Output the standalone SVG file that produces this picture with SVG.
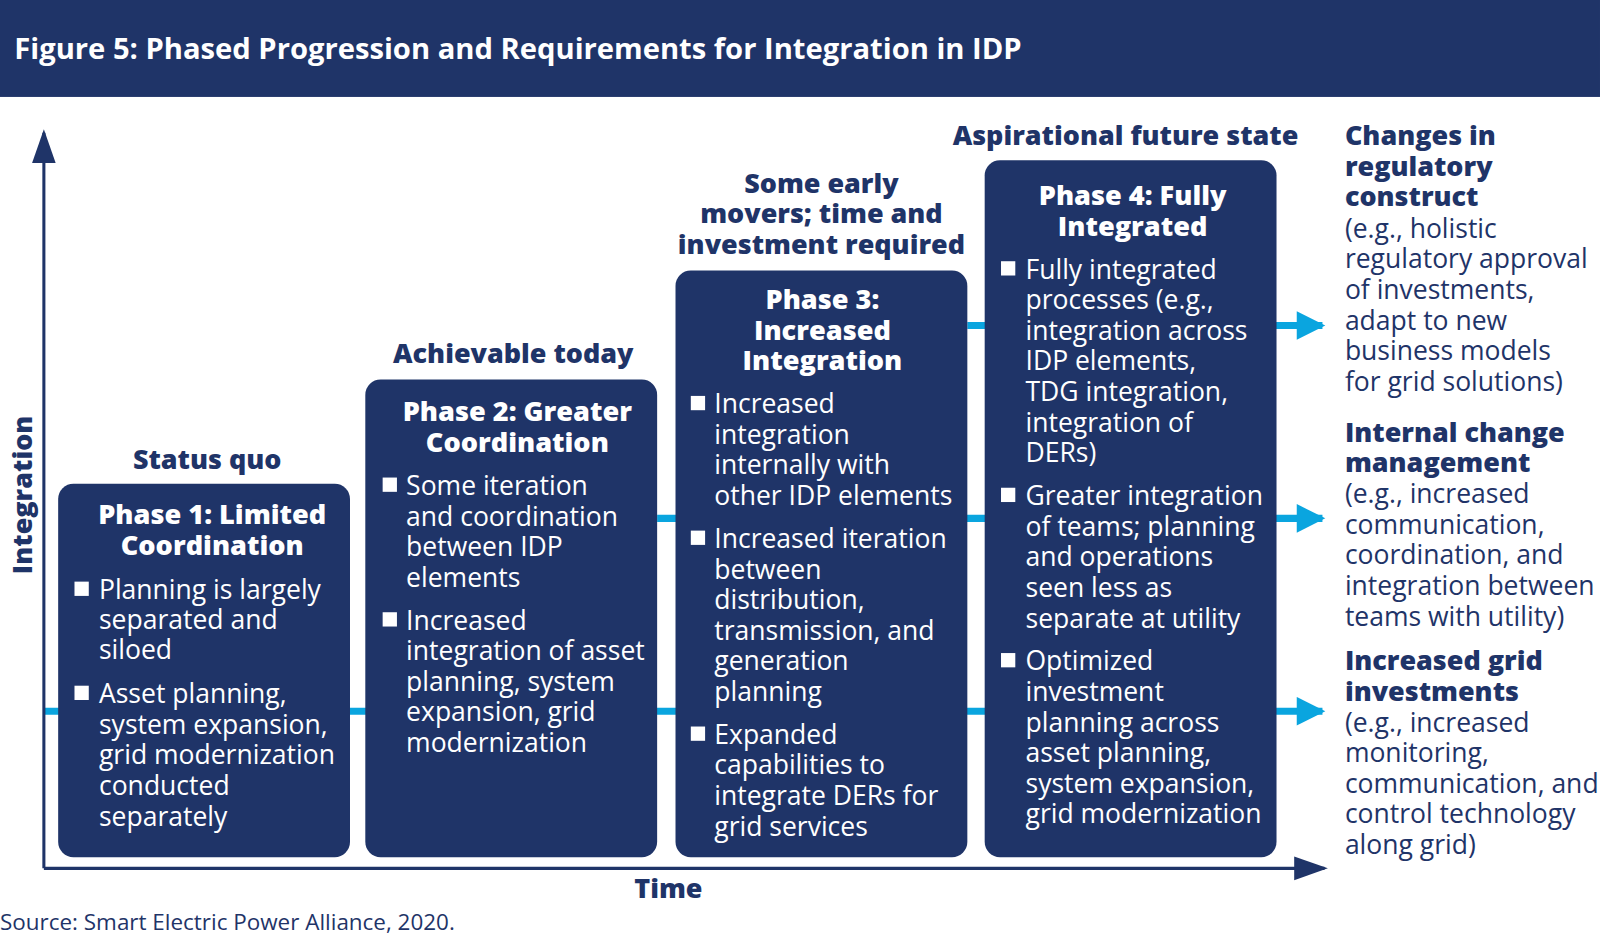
<svg xmlns="http://www.w3.org/2000/svg" width="1600" height="934" viewBox="0 0 1600 934">
<style>
.b{font-family:"Open Sans","Liberation Sans",sans-serif;font-weight:800;fill:#1f3468;font-size:26.4px}
.r{font-family:"Open Sans","Liberation Sans",sans-serif;fill:#1f3468;font-size:26px}
.w{font-family:"Open Sans","Liberation Sans",sans-serif;fill:#fff;font-size:26px}
.wb{font-family:"Open Sans","Liberation Sans",sans-serif;font-weight:800;fill:#fff;font-size:26.6px;text-anchor:middle}
.box{fill:#1f3468}
.sq{fill:#fff}
.c{stroke:#0aa5df;stroke-width:7;fill:none}
.ax{stroke:#1f3468;stroke-width:3;fill:none}
</style>
<defs>
<marker id="ca" viewBox="0 0 10 10" refX="9" refY="5" markerWidth="6" markerHeight="4" markerUnits="strokeWidth" orient="auto"><path d="M0,0L10,5L0,10Z" fill="#0aa5df"/></marker>
<marker id="aa" viewBox="0 0 10 10" refX="9" refY="5" markerWidth="11" markerHeight="11" markerUnits="strokeWidth" orient="auto"><path d="M0,1.5L10,5L0,8.5Z" fill="#1f3468"/></marker>
</defs>
<rect width="1600" height="934" fill="#fff"/>
<g transform="scale(1.0204)">
<rect x="0" y="0" width="1568" height="95" fill="#1f3468"/>
<text x="14" y="58" font-family="Open Sans,Liberation Sans,sans-serif" font-weight="700" font-size="28.6" fill="#fff">Figure 5: Phased Progression and Requirements for Integration in IDP</text>
<g id="connectors">
<path class="c" d="M43,697H1296" marker-end="url(#ca)"/>
<path class="c" d="M644,508H1296" marker-end="url(#ca)"/>
<path class="c" d="M948,319H1296" marker-end="url(#ca)"/>
<path class="ax" d="M43,851V130" marker-end="url(#aa)"/>
<path class="ax" d="M43,851H1298" marker-end="url(#aa)"/>
</g>
<text class="b" transform="translate(22,485) rotate(-90)" text-anchor="middle" y="9">Integration</text>
<text class="b" x="655" y="880" text-anchor="middle">Time</text>
<text x="0" y="911" font-family="Open Sans,Liberation Sans,sans-serif" font-size="22" fill="#1f3468">Source: Smart Electric Power Alliance, 2020.</text>
<g id="phase1">
<text class="b" x="203" y="460" text-anchor="middle">Status quo</text>
<rect class="box" x="57" y="474" width="286" height="366" rx="15"/>
<text class="wb" x="208" y="514">Phase 1: Limited</text><text class="wb" x="208" y="544">Coordination</text>
<rect class="sq" x="73" y="570" width="14" height="14"/>
<text class="w" x="97"><tspan x="97" y="587">Planning is largely</tspan><tspan x="97" y="616">separated and</tspan><tspan x="97" y="646">siloed</tspan></text>
<rect class="sq" x="73" y="672" width="14" height="14"/>
<text class="w"><tspan x="97" y="689">Asset planning,</tspan><tspan x="97" y="719">system expansion,</tspan><tspan x="97" y="749">grid modernization</tspan><tspan x="97" y="779">conducted</tspan><tspan x="97" y="809">separately</tspan></text>
</g>
<g id="phase2">
<text class="b" x="503" y="356" text-anchor="middle">Achievable today</text>
<rect class="box" x="358" y="372" width="286" height="468" rx="15"/>
<text class="wb" x="507" y="413">Phase 2: Greater</text><text class="wb" x="507" y="443">Coordination</text>
<rect class="sq" x="375" y="468" width="14" height="14"/>
<text class="w"><tspan x="398" y="485">Some iteration</tspan><tspan x="398" y="515">and coordination</tspan><tspan x="398" y="545">between IDP</tspan><tspan x="398" y="575">elements</tspan></text>
<rect class="sq" x="375" y="600" width="14" height="14"/>
<text class="w"><tspan x="398" y="617">Increased</tspan><tspan x="398" y="647">integration of asset</tspan><tspan x="398" y="677">planning, system</tspan><tspan x="398" y="707">expansion, grid</tspan><tspan x="398" y="737">modernization</tspan></text>
</g>
<g id="phase3">
<text class="b" text-anchor="middle"><tspan x="805" y="189">Some early</tspan><tspan x="805" y="219">movers; time and</tspan><tspan x="805" y="249">investment required</tspan></text>
<rect class="box" x="662" y="265" width="286" height="575" rx="15"/>
<text class="wb"><tspan x="806" y="303">Phase 3:</tspan><tspan x="806" y="333">Increased</tspan><tspan x="806" y="363">Integration</tspan></text>
<rect class="sq" x="677" y="388" width="14" height="14"/>
<text class="w"><tspan x="700" y="405">Increased</tspan><tspan x="700" y="435">integration</tspan><tspan x="700" y="465">internally with</tspan><tspan x="700" y="495">other IDP elements</tspan></text>
<rect class="sq" x="677" y="520" width="14" height="14"/>
<text class="w"><tspan x="700" y="537">Increased iteration</tspan><tspan x="700" y="567">between</tspan><tspan x="700" y="597">distribution,</tspan><tspan x="700" y="627">transmission, and</tspan><tspan x="700" y="657">generation</tspan><tspan x="700" y="687">planning</tspan></text>
<rect class="sq" x="677" y="712" width="14" height="14"/>
<text class="w"><tspan x="700" y="729">Expanded</tspan><tspan x="700" y="759">capabilities to</tspan><tspan x="700" y="789">integrate DERs for</tspan><tspan x="700" y="819">grid services</tspan></text>
</g>
<g id="phase4">
<text class="b" x="1103" y="142" text-anchor="middle">Aspirational future state</text>
<rect class="box" x="965" y="157" width="286" height="683" rx="15"/>
<text class="wb"><tspan x="1110" y="201">Phase 4: Fully</tspan><tspan x="1110" y="231">Integrated</tspan></text>
<rect class="sq" x="981" y="256" width="14" height="14"/>
<text class="w"><tspan x="1005" y="273">Fully integrated</tspan><tspan x="1005" y="303">processes (e.g.,</tspan><tspan x="1005" y="333">integration across</tspan><tspan x="1005" y="363">IDP elements,</tspan><tspan x="1005" y="393">TDG integration,</tspan><tspan x="1005" y="423">integration of</tspan><tspan x="1005" y="453">DERs)</tspan></text>
<rect class="sq" x="981" y="478" width="14" height="14"/>
<text class="w"><tspan x="1005" y="495">Greater integration</tspan><tspan x="1005" y="525">of teams; planning</tspan><tspan x="1005" y="555">and operations</tspan><tspan x="1005" y="585">seen less as</tspan><tspan x="1005" y="615">separate at utility</tspan></text>
<rect class="sq" x="981" y="640" width="14" height="14"/>
<text class="w"><tspan x="1005" y="657">Optimized</tspan><tspan x="1005" y="687">investment</tspan><tspan x="1005" y="717">planning across</tspan><tspan x="1005" y="747">asset planning,</tspan><tspan x="1005" y="777">system expansion,</tspan><tspan x="1005" y="807">grid modernization</tspan></text>
</g>
<g id="outcome1">
<text class="b"><tspan x="1318" y="142">Changes in</tspan><tspan x="1318" y="172">regulatory</tspan><tspan x="1318" y="202">construct</tspan></text>
<text class="r"><tspan x="1318" y="233">(e.g., holistic</tspan><tspan x="1318" y="263">regulatory approval</tspan><tspan x="1318" y="293">of investments,</tspan><tspan x="1318" y="323">adapt to new</tspan><tspan x="1318" y="353">business models</tspan><tspan x="1318" y="383">for grid solutions)</tspan></text>
</g>
<g id="outcome2">
<text class="b"><tspan x="1318" y="433">Internal change</tspan><tspan x="1318" y="463">management</tspan></text>
<text class="r"><tspan x="1318" y="493">(e.g., increased</tspan><tspan x="1318" y="523">communication,</tspan><tspan x="1318" y="553">coordination, and</tspan><tspan x="1318" y="583">integration between</tspan><tspan x="1318" y="613">teams with utility)</tspan></text>
</g>
<g id="outcome3">
<text class="b"><tspan x="1318" y="657">Increased grid</tspan><tspan x="1318" y="687">investments</tspan></text>
<text class="r"><tspan x="1318" y="717">(e.g., increased</tspan><tspan x="1318" y="747">monitoring,</tspan><tspan x="1318" y="777">communication, and</tspan><tspan x="1318" y="807">control technology</tspan><tspan x="1318" y="837">along grid)</tspan></text>
</g>
</g>
</svg>
